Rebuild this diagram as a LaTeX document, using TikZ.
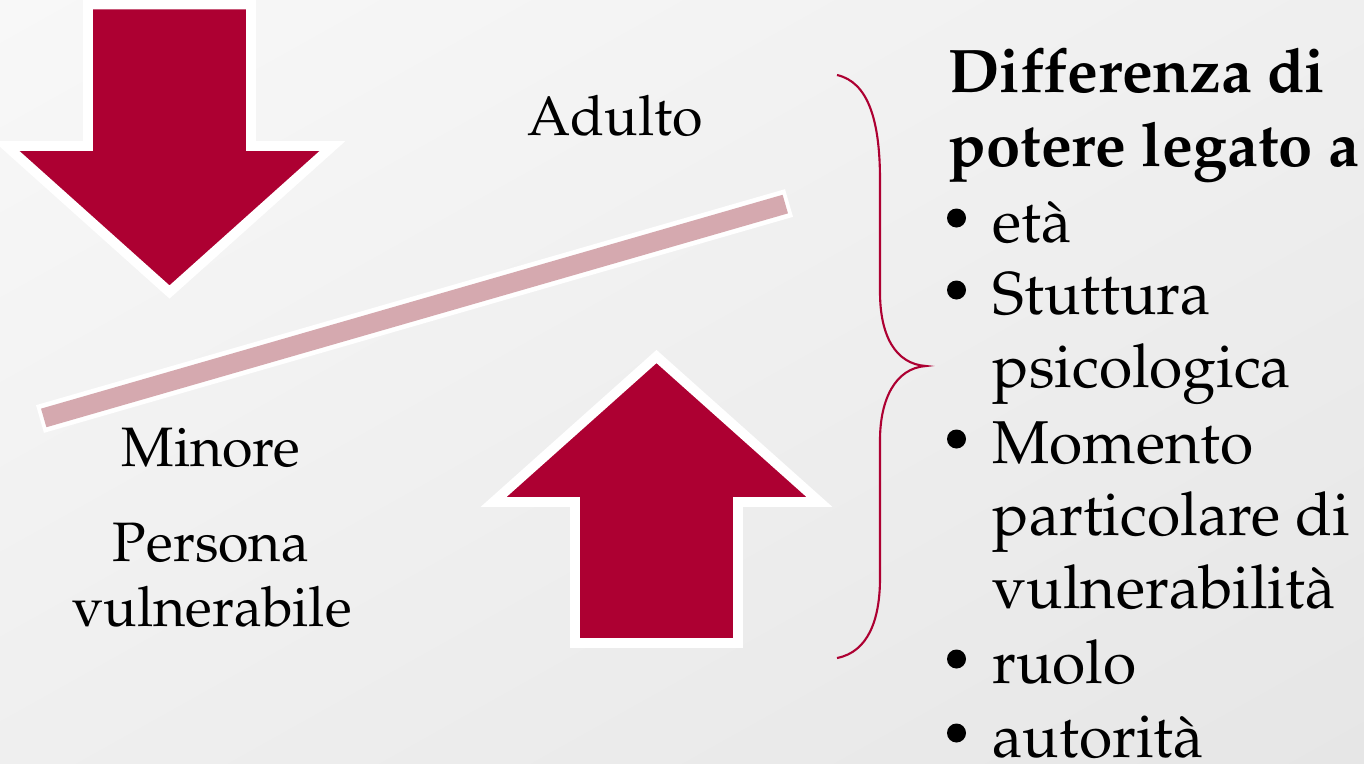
\documentclass[tikz,border=0pt]{standalone}
\usepackage[T1]{fontenc}
\usepackage{mathpazo}
\usepackage{tikz}
\usetikzlibrary{calc,shadings}

\definecolor{wine}{HTML}{AD0032}
\definecolor{rosebar}{HTML}{D5A9AF}
\definecolor{bgA}{HTML}{F8F8F8}
\definecolor{bgB}{HTML}{EFEFEF}
\definecolor{bgC}{HTML}{E6E6E6}

\begin{document}
\begin{tikzpicture}[x=0.01cm,y=-0.01cm,
        txt/.style={font=\fontsize{15.8}{18}\selectfont, inner sep=0pt, anchor=base},
        item/.style={font=\fontsize{17.2}{20}\selectfont, inner sep=0pt, anchor=base west},
        head/.style={item, font=\fontsize{17.5}{20}\selectfont\bfseries},
        bigarrow/.style={fill=wine, draw=white, line width=2.8pt, line join=miter}]
        \useasboundingbox (0,0) rectangle (1364,763);
        \shade[upper left=bgA, upper right=bgB, lower left=bgB, lower right=bgC] (0,0) rectangle (1364,763);

        % frecce
        \draw[bigarrow] (88,4.5) -- (251,4.5) -- (251,146) -- (332.5,146) -- (169.5,292)
            -- (6.5,146) -- (88,146) -- cycle;
        \draw[bigarrow] (656.5,356.5) -- (819.5,502) -- (738,502) -- (738,643)
            -- (575,643) -- (575,502) -- (493.5,502) -- cycle;

        % barra
        \coordinate (barL) at (40,419);
        \coordinate (barR) at (789,203);
        \draw[white, line width=8.2pt] (barL) -- (barR);
        \draw[rosebar, line width=5.5pt, shorten <=1.1pt, shorten >=1.1pt] (barL) -- (barR);

        \node[txt] (adulto) at (615,135) {Adulto};
        \node[txt] (minore) at (211,466) {Minore};
        \node[txt] (persona) at (211,561) {Persona};
        \node[txt] (vulner) at (212,626) {vulnerabile};

        % graffa
        \draw[wine, line width=0.6pt] (837,75) .. controls (868,82) and (880,120) .. (880,180)
            -- (880,292) .. controls (880,335) and (895,364) .. (926,366)
            .. controls (895,368) and (880,400) .. (880,440)
            -- (880,578) .. controls (880,620) and (868,652) .. (837,658);

        \node[head] (head1) at (948,92) {Differenza di};
        \node[head] (head2) at (948,166) {potere legato a};
        \foreach \y/\t [count=\i] in {242/et\`a, 314/Stuttura, 387/psicologica,
            463/Momento, 535/particolare di, 608/vulnerabilit\`a, 683/ruolo, 757/autorit\`a}
        \node[item] (line\i) at (992,\y) {\t};
        \foreach \y in {242,314,463,683,757}
        \fill (956.5,\y-24) circle (2.7pt);
\end{tikzpicture}
\end{document}
